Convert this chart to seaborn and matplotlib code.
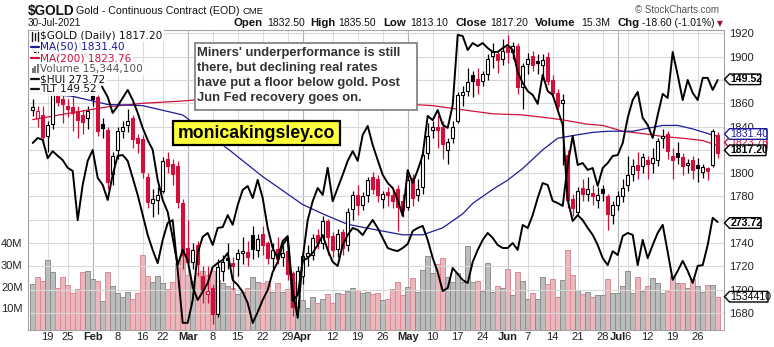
import numpy as np
import pandas as pd
import matplotlib
matplotlib.use("Agg")
import matplotlib.pyplot as plt
import seaborn as sns
from matplotlib.patches import Polygon, Rectangle
from matplotlib.lines import Line2D
from matplotlib.transforms import blended_transform_factory

sns.set_theme(style="white")
plt.rcParams['font.family'] = ['Liberation Sans', 'DejaVu Sans']

# ---------------- data ----------------
holidays = ["2021-01-18", "2021-02-15", "2021-04-02", "2021-05-31", "2021-07-05"]
trade_dates = pd.bdate_range("2021-01-13", "2021-07-30", freq="C", holidays=holidays)

prior_close = 1846.0
opens = [1854, 1847, 1850, 1832, 1842, 1869, 1864, 1858, 1857, 1853, 1850, 1847,
         1868, 1865, 1842, 1837, 1799, 1820, 1836, 1841, 1847, 1830, 1829, 1797, 1774, 1777,
         1785, 1812, 1808, 1806, 1774,
         1736, 1724, 1738, 1712, 1696, 1701, 1679, 1716, 1727, 1723, 1726, 1731, 1732, 1747,
         1734, 1748, 1740, 1727, 1735, 1728, 1733, 1714, 1685,
         1712, 1729, 1730, 1747, 1740, 1759, 1746, 1735, 1749, 1738, 1769, 1781, 1773, 1781,
         1797, 1795, 1778, 1784, 1781, 1786, 1776,
         1771, 1796, 1781, 1788, 1817, 1837, 1840, 1840, 1820, 1830, 1845, 1867, 1871, 1884,
         1881, 1879, 1885, 1901, 1902, 1898,
         1908, 1904, 1909, 1874, 1894, 1901, 1896, 1893, 1900, 1880, 1869, 1860, 1816, 1778,
         1767, 1787, 1782, 1783, 1777, 1786, 1780, 1764,
         1773, 1780, 1790, 1799, 1807, 1806, 1811, 1809, 1811, 1830, 1834, 1815, 1817, 1814,
         1807, 1811, 1807, 1801, 1804, 1807, 1832.5]
highs = [1864, 1858, 1858, 1845, 1872, 1875, 1868, 1864, 1866, 1858, 1854, 1858,
         1875, 1867, 1847, 1840, 1818, 1840, 1845, 1855, 1850, 1834, 1833, 1800, 1786, 1788,
         1814, 1818, 1812, 1810, 1778,
         1760, 1740, 1742, 1720, 1720, 1705, 1726, 1730, 1740, 1728, 1735, 1745, 1742, 1755,
         1748, 1755, 1742, 1740, 1745, 1738, 1738, 1716, 1720,
         1732, 1738, 1748, 1752, 1763, 1761, 1749, 1752, 1752, 1770, 1785, 1790, 1784, 1797,
         1801, 1798, 1785, 1788, 1786, 1790, 1782,
         1798, 1799, 1795, 1820, 1843, 1845, 1850, 1845, 1830, 1845, 1870, 1875, 1890, 1888,
         1890, 1888, 1902, 1912, 1906, 1915,
         1919, 1913, 1912, 1895, 1903, 1905, 1902, 1902, 1904, 1884, 1872, 1868, 1820, 1782,
         1788, 1795, 1797, 1790, 1788, 1790, 1782, 1776,
         1785, 1795, 1815, 1812, 1818, 1817, 1815, 1822, 1830, 1838, 1836, 1822, 1827, 1817,
         1812, 1815, 1813, 1808, 1805, 1838, 1835.5]
lows = [1849, 1840, 1825, 1818, 1838, 1858, 1843, 1848, 1836, 1830, 1834, 1838,
        1858, 1832, 1830, 1786, 1790, 1812, 1830, 1835, 1822, 1817, 1796, 1770, 1762, 1765,
        1783, 1800, 1790, 1770, 1718,
        1720, 1718, 1712, 1688, 1688, 1670, 1676, 1707, 1718, 1700, 1712, 1722, 1720, 1726,
        1728, 1730, 1722, 1718, 1722, 1720, 1708, 1677, 1680,
        1705, 1720, 1725, 1735, 1735, 1730, 1728, 1728, 1730, 1733, 1760, 1764, 1768, 1775,
        1782, 1775, 1770, 1772, 1770, 1750, 1762,
        1768, 1772, 1776, 1782, 1812, 1830, 1822, 1812, 1808, 1826, 1843, 1858, 1866, 1865,
        1868, 1875, 1880, 1890, 1886, 1893,
        1895, 1898, 1868, 1855, 1885, 1888, 1885, 1880, 1876, 1866, 1855, 1807, 1770, 1763,
        1763, 1776, 1776, 1773, 1770, 1776, 1751, 1756,
        1768, 1775, 1785, 1793, 1795, 1800, 1795, 1800, 1806, 1822, 1812, 1795, 1808, 1798,
        1800, 1795, 1792, 1796, 1794, 1805, 1813.1]
closes = [1857, 1853, 1831, 1841, 1868, 1861, 1859, 1855, 1852, 1846, 1844, 1853,
          1864, 1836, 1839, 1792, 1815, 1836, 1840, 1845, 1829, 1826, 1801, 1775, 1778, 1781,
          1810, 1806, 1799, 1775, 1730,
          1724, 1734, 1722, 1700, 1699, 1679, 1719, 1724, 1725, 1720, 1731, 1733, 1728, 1735,
          1743, 1738, 1727, 1734, 1726, 1731, 1713, 1685, 1716,
          1729, 1731, 1744, 1740, 1759, 1745, 1734, 1748, 1736, 1767, 1781, 1773, 1780, 1794,
          1786, 1781, 1782, 1781, 1776, 1771, 1768,
          1794, 1779, 1786, 1816, 1832, 1840, 1837, 1825, 1827, 1840, 1867, 1870, 1878, 1879,
          1876, 1885, 1898, 1904, 1897, 1905,
          1904, 1909, 1874, 1892, 1898, 1893, 1895, 1897, 1879, 1869, 1858, 1863, 1777, 1770,
          1785, 1782, 1786, 1780, 1781, 1783, 1765, 1773,
          1780, 1787, 1798, 1806, 1803, 1814, 1808, 1813, 1828, 1832, 1819, 1811, 1814, 1806,
          1809, 1803, 1804, 1805, 1802, 1835.8, 1817.2]
volume_m = [21.1, 24.6, 22.6, 32.3, 26.9, 19.2, 24.3, 20.6, 16.9, 18.7,
            26.6, 27.0, 23.4, 22.6, 13.4, 26.6, 20.3, 16.9, 15.1, 17.5,
            14.1, 16.9, 34.6, 24.9, 22.3, 24.9, 21.8, 18.7, 22.3, 31.0,
            34.0, 25.5, 22.4, 26.2, 27.2, 25.5, 27.0, 23.2, 21.7, 20.1,
            19.3, 16.5, 17.5, 19.5, 24.5, 22.0, 21.7, 22.5, 17.5, 21.7,
            17.5, 19.0, 22.0, 15.5, 14.0, 10.0, 15.0, 12.5, 14.5, 16.5,
            12.5, 17.0, 16.5, 18.0, 19.5, 18.5, 17.0, 17.5, 16.5, 17.0,
            14.0, 14.3, 18.7, 22.0, 16.1, 19.7, 23.8, 17.5, 27.6, 34.1,
            26.4, 30.3, 33.0, 24.3, 22.3, 26.1, 22.3, 38.7, 22.3, 22.7,
            18.0, 30.7, 17.4, 20.4, 19.4, 28.1, 16.3, 26.6, 22.4, 14.3,
            17.0, 14.3, 24.3, 21.2, 23.5, 15.0, 22.9, 36.7, 25.2, 18.6,
            16.6, 17.4, 15.0, 16.3, 16.3, 23.5, 17.0, 17.0, 20.1, 27.0,
            17.0, 24.4, 17.8, 20.4, 24.0, 21.7, 17.0, 17.8, 24.7, 21.7,
            21.5, 19.2, 23.4, 20.3, 17.6, 20.7, 20.7, 15.34]
hui = [294.1, 295.4, 294.9, 290.2, 292.0, 290.8, 289.7, 287.7, 286.9, 274.2,
       283.3, 289.5, 292.3, 285.1, 283.3, 279.4, 285.9, 290.8, 291.0, 289.5,
       285.1, 280.7, 275.5, 270.4, 266.5, 263.1, 269.1, 273.5, 274.2, 261.3,
       247.7, 247.7, 253.6, 265.7, 269.9, 270.9, 267.8, 272.2, 272.4, 275.5,
       273.0, 278.1, 282.0, 283.0, 279.9, 284.6, 279.9, 272.2, 267.0, 264.4,
       268.8, 270.1, 255.9, 249.0, 264.4, 274.2, 279.1, 282.5, 280.7, 287.7,
       279.1, 282.5, 285.9, 289.5, 292.0, 289.5, 296.2, 298.5, 293.6, 289.7,
       285.9, 283.8, 282.5, 279.4, 275.3, 287.1, 283.8, 287.1, 291.0, 301.1,
       300.0, 302.6, 298.8, 298.0, 303.9, 322.0, 321.7, 318.1, 319.9, 319.1,
       319.9, 318.6, 317.6, 317.6, 318.6, 319.4, 318.1, 312.4, 309.6, 307.5,
       306.5, 304.2, 311.7, 307.5, 306.5, 302.6, 298.8, 279.4, 274.0, 275.5,
       274.2, 272.2, 270.4, 267.8, 264.4, 262.6, 266.2, 265.2, 270.1, 270.9,
       270.4, 262.6, 269.1, 264.4, 267.8, 270.9, 273.0, 266.0, 258.8, 261.1,
       263.7, 261.1, 258.0, 262.4, 262.6, 267.8, 274.8, 273.72]
tlt = [151.40, 151.08, 151.71, 151.52, 151.58, 150.90, 151.40, 151.90, 152.02, 152.15,
       151.27, 150.90, 150.65, 149.83, 149.02, 148.46, 147.46, 147.90, 148.40, 148.90,
       148.27, 147.46, 146.52, 145.77, 145.15, 143.27, 142.02, 141.27, 139.65, 137.96,
       138.90, 138.27, 136.58, 135.77, 136.27, 136.83, 137.83, 138.08, 138.27, 138.71,
       137.02, 136.71, 136.27, 135.58, 134.33, 135.02, 135.77, 136.40, 137.52, 138.15,
       139.21, 139.65, 135.71, 136.08, 138.21, 138.40, 138.71, 139.21, 139.83, 138.90,
       138.15, 137.90, 139.21, 139.83, 140.27, 140.15, 139.83, 140.33, 140.77, 140.27,
       139.65, 139.02, 138.90, 138.83, 139.02, 139.27, 140.08, 140.27, 140.40, 139.52,
       138.40, 137.52, 136.33, 136.52, 137.77, 137.40, 137.02, 136.83, 138.15, 138.90,
       139.52, 139.96, 139.65, 139.21, 139.02, 139.02, 139.33, 138.90, 140.46, 140.27,
       141.08, 142.15, 143.08, 142.96, 141.96, 141.83, 141.65, 144.21, 146.02, 144.21,
       144.33, 143.90, 144.02, 142.90, 144.02, 144.33, 144.77, 144.83, 145.58, 147.15,
       148.27, 148.77, 147.15, 146.71, 145.90, 147.33, 148.65, 148.40, 151.27, 149.83,
       148.27, 149.52, 148.71, 148.27, 149.65, 149.65, 148.90, 149.52]
ma50_dates = ["2021-01-13", "2021-01-26", "2021-02-04", "2021-02-16", "2021-02-26", "2021-03-11",
              "2021-03-22", "2021-04-01", "2021-04-08", "2021-04-15", "2021-04-23", "2021-04-30",
              "2021-05-06", "2021-05-12", "2021-05-18", "2021-05-20", "2021-05-26", "2021-06-01",
              "2021-06-04", "2021-06-10", "2021-06-15", "2021-06-21", "2021-06-24", "2021-06-29",
              "2021-07-07", "2021-07-15", "2021-07-20", "2021-07-23", "2021-07-30"]
ma50_vals = [1869, 1866, 1859, 1858, 1850, 1821, 1797, 1773, 1765, 1756, 1751, 1747, 1747, 1753,
             1765, 1774, 1786, 1794, 1804, 1820, 1830, 1833, 1835, 1836, 1836, 1841, 1841, 1838,
             1831.40]
ma200_dates = ["2021-01-13", "2021-01-26", "2021-02-04", "2021-02-16", "2021-02-26", "2021-03-03",
               "2021-04-06", "2021-05-04", "2021-05-10", "2021-05-17", "2021-05-26", "2021-06-04",
               "2021-06-14", "2021-06-17", "2021-06-23", "2021-06-28", "2021-07-02", "2021-07-09",
               "2021-07-15", "2021-07-21", "2021-07-27", "2021-07-30"]
ma200_vals = [1846, 1852, 1857, 1860, 1862, 1863, 1862, 1859, 1858, 1855, 1851, 1850, 1847, 1845,
              1842, 1841, 1836, 1834, 1831.5, 1830, 1828, 1823.76]

price_ticks = list(range(1680, 1921, 20))
hidden_price_labels = {1880, 1820, 1760}   # covered by the value tags in the reference
vol_ticks = [10, 20, 30, 40]
vol_tick_labels = ["10M", "20M", "30M", "40M"]
xtick_dates = ["2021-01-19", "2021-01-25", "2021-02-01", "2021-02-08", "2021-02-16", "2021-02-22",
               "2021-03-01", "2021-03-08", "2021-03-15", "2021-03-22", "2021-03-29", "2021-04-01",
               "2021-04-12", "2021-04-19", "2021-04-26", "2021-05-03", "2021-05-10", "2021-05-17",
               "2021-05-24", "2021-06-01", "2021-06-07", "2021-06-14", "2021-06-21", "2021-06-28",
               "2021-07-01", "2021-07-06", "2021-07-12", "2021-07-19", "2021-07-26"]
xtick_labels = ["19", "25", "Feb", "8", "16", "22", "Mar", "8", "15", "22", "29", "Apr", "12",
                "19", "26", "May", "10", "17", "24", "Jun", "7", "14", "21", "28", "Jul", "6",
                "12", "19", "26"]
month_labels = {"Feb", "Mar", "Apr", "May", "Jun", "Jul"}

# ---------------- figure ----------------
W, H = 774, 347
def fx(v): return v / W
def fy(v): return 1 - v / H

fig = plt.figure(figsize=(W / 100, H / 100), dpi=100)
fig.patch.set_facecolor("white")
L, R, T, B = 28, 724, 30, 330
ax_vol = fig.add_axes([fx(L), 1 - B / H, (R - L) / W, (B - T) / H])
ax_vol.set_facecolor("white")

x = np.arange(len(closes))
o = np.array(opens, float); h = np.array(highs, float)
l = np.array(lows, float); c = np.array(closes, float)
prev = np.r_[prior_close, c[:-1]]
up = c >= prev

RED = "#d0103a"
vol_fc = np.where(up, "#bcbcbc", "#e9b7bc")
vol_ec = np.where(up, "#8e8e8e", "#dc8a95")
ax_vol.bar(x, volume_m, width=1.0, color=vol_fc, edgecolor=vol_ec, linewidth=0.7, zorder=2)

ax_p = ax_vol.twinx()
ax_h = ax_vol.twinx()
ax_t = ax_vol.twinx()

# grid
xt = [trade_dates.get_loc(pd.Timestamp(d)) for d in xtick_dates]
for pos, lab in zip(xt, xtick_labels):
    ax_vol.axvline(pos, color="#b4b4b4" if lab in month_labels else "#dcdcdc", lw=0.8, zorder=1)
tr = blended_transform_factory(ax_vol.transAxes, ax_p.transData)
for p in price_ticks:
    ax_vol.add_line(Line2D([0, 1], [p, p], transform=tr, color="#d8d8d8", lw=0.8, zorder=2.5))

# candles
edge = np.where(up, "#000000", RED)
face = np.where(c > o, "white", edge)
ax_p.vlines(x, l, h, colors=edge, linewidth=0.9, zorder=3)
body_lo = np.minimum(o, c)
body_h = np.maximum(np.abs(c - o), 0.9)
ax_p.bar(x, body_h, bottom=body_lo, width=0.7, color=face, edgecolor=edge, linewidth=0.8, zorder=4)

ma50_x = [trade_dates.get_loc(pd.Timestamp(d)) for d in ma50_dates]
ma200_x = [trade_dates.get_loc(pd.Timestamp(d)) for d in ma200_dates]
sns.lineplot(x=ma200_x, y=ma200_vals, ax=ax_p, color=RED, linewidth=0.9, zorder=3.5)
sns.lineplot(x=ma50_x, y=ma50_vals, ax=ax_p, color="#1c1c9c", linewidth=0.9, zorder=3.5)

sns.lineplot(x=x, y=hui, ax=ax_h, color="black", linewidth=1.4)
sns.lineplot(x=x, y=tlt, ax=ax_t, color="black", linewidth=1.4)

# limits
for a in (ax_vol, ax_p, ax_h, ax_t):
    a.set_xlim(-0.94, 138.26)
    a.set_xlabel(""); a.set_ylabel("")
ax_vol.set_ylim(0, 138.2)
ax_p.set_ylim(1665.2, 1923.0)
ax_h.set_ylim(245.86, 323.26)
ax_t.set_ylim(133.895, 152.645)

# axes styling
for a in (ax_p, ax_h, ax_t):
    for s in a.spines.values():
        s.set_visible(False)
for s in ax_vol.spines.values():
    s.set_color("#a4a4a4"); s.set_linewidth(0.8)
for a in (ax_h, ax_t):
    a.set_yticks([])

ax_p.set_yticks(price_ticks)
ax_p.set_yticklabels(["" if p in hidden_price_labels else str(p) for p in price_ticks])
ax_p.tick_params(axis="y", length=0, pad=3.5, labelsize=8, labelcolor="#222222")

ax_vol.set_yticks(vol_ticks)
ax_vol.set_yticklabels(vol_tick_labels)
ax_vol.tick_params(axis="y", length=0, pad=4, labelsize=8, labelcolor="#222222")
ax_vol.set_xticks(xt)
ax_vol.set_xticklabels(xtick_labels)
ax_vol.tick_params(axis="x", length=0, pad=1.5, labelsize=8, labelcolor="#222222")
for lab in ax_vol.get_xticklabels():
    if lab.get_text() in month_labels:
        lab.set_fontweight("bold")

# ---------------- header ----------------
fig.text(fx(28), fy(10.5), "$GOLD", fontsize=9.8, fontweight="bold", va="center", color="#111111")
fig.text(fx(76), fy(10.5), "Gold - Continuous Contract (EOD)", fontsize=7.7, va="center", color="#111111")
fig.text(fx(242.5), fy(11), "CME", fontsize=6.8, va="center", color="#111111")
fig.text(fx(28), fy(23.5), "30-Jul-2021", fontsize=7.2, va="center", color="#111111")
fig.text(fx(635), fy(10), "\u00a9 StockCharts.com", fontsize=7, va="center", color="#555555")
hdr = [(234, "Open", True), (267, "1832.50", False), (310, "High", True), (338, "1835.50", False),
       (383, "Low", True), (410, "1813.10", False), (455, "Close", True), (490, "1817.20", False),
       (535, "Volume", True), (581, "15.3M", False), (617, "Chg", True), (642, "-18.60 (-1.01%)", False)]
for xx, s, bold in hdr:
    fig.text(fx(xx), fy(23.5), s, fontsize=8.2 if bold else 7.5,
             fontweight="bold" if bold else "normal", va="center", color="#111111")
fig.text(fx(716.5), fy(23.5), "\u25bc", fontsize=5.5, va="center", color="#a0102a",
         family=["DejaVu Sans"])

# ---------------- legend ----------------
leg = [(36.0, "$GOLD (Daily) 1817.20", "#111111", None),
       (46.7, "MA(50) 1831.40", "#1c1c9c", "#1c1c9c"),
       (58.3, "MA(200) 1823.76", RED, RED),
       (69.0, "Volume 15,344,100", "#555555", None),
       (79.3, "$HUI 273.72", "#111111", "#111111"),
       (89.3, "TLT 149.52", "#111111", "#111111")]
for yy, s, col, dash in leg:
    fig.text(fx(40.5), fy(yy), s, fontsize=7.6, va="center", color=col, family=["DejaVu Sans"],
             bbox=dict(boxstyle="square,pad=0.12", fc="white", ec="none", alpha=0.92), zorder=3)
    fig.patches.append(Rectangle((fx(30), fy(yy + 5.5)), (10) / W, 11 / H, transform=fig.transFigure,
                                 fc="white", ec="none", alpha=0.92, zorder=3))
    if dash is not None:
        fig.add_artist(Line2D([fx(31), fx(39)], [fy(yy), fy(yy)], color=dash, lw=1.6, zorder=4))
# candle icon
for xx, y0, y1 in [(32, 31.5, 40.5), (35, 33, 39.5), (38, 31.5, 40.5)]:
    fig.add_artist(Line2D([fx(xx), fx(xx)], [fy(y0), fy(y1)], color="#111111", lw=1.0, zorder=4))
# volume icon
for xx, hh in [(31.5, 5), (34.0, 7), (36.5, 9)]:
    fig.patches.append(Rectangle((fx(xx), fy(73)), 2 / W, hh / H, transform=fig.transFigure,
                                 fc="#777777", ec="none", zorder=4))

# ---------------- comment boxes ----------------
fig.patches.append(Rectangle((fx(194.5), fy(110)), (417.5 - 194.5) / W, (110 - 42.7) / H,
                             transform=fig.transFigure, fc="white", ec="#7a7a7a", lw=1.2, zorder=5))
note = ["Miners' underperformance is still", "there, but declining real rates",
        "have put a floor below gold. Post", "Jun Fed recovery goes on."]
for i, s in enumerate(note):
    fig.text(fx(197), fy(53.3 + 15 * i), s, fontsize=9.4, fontweight="bold", va="center",
             color="#333333", zorder=6)
fig.patches.append(Rectangle((fx(173), fy(145.5)), (340 - 173) / W, (145.5 - 120.7) / H,
                             transform=fig.transFigure, fc="#ffff3c", ec="black", lw=1.6, zorder=5))
fig.text(fx(256.5), fy(133.3), "monicakingsley.co", fontsize=12.7, fontweight="bold", ha="center",
         va="center", color="black", zorder=6)

# ---------------- value tags ----------------
def tag(yc, s, col, bold, right, z):
    tip, x0, hh = 724.5, 729.5, 5.3
    pts = [(tip, yc), (x0, yc - hh), (right, yc - hh), (right, yc + hh), (x0, yc + hh)]
    fig.patches.append(Polygon([(fx(a), fy(b)) for a, b in pts], closed=True,
                               transform=fig.transFigure, fc="white", ec=col, lw=1.0, zorder=z))
    fig.text(fx(x0 + 1.2), fy(yc), s, fontsize=7.6, fontweight="bold" if bold else "normal",
             va="center", color=col if not bold else "black", zorder=z + 0.05)

tag(142.5, "1823.76", RED, False, 767, 7.0)
tag(134.0, "1831.40", "#1c1c9c", False, 767, 7.2)
tag(150.3, "1817.20", "black", True, 766, 7.4)
tag(79.3, "149.52", "black", True, 760.5, 7.0)
tag(223.0, "273.72", "black", True, 761, 7.0)
tag(296.7, "1534410", "black", False, 768, 7.0)

fig.savefig("out.png", dpi=100, facecolor="white")
